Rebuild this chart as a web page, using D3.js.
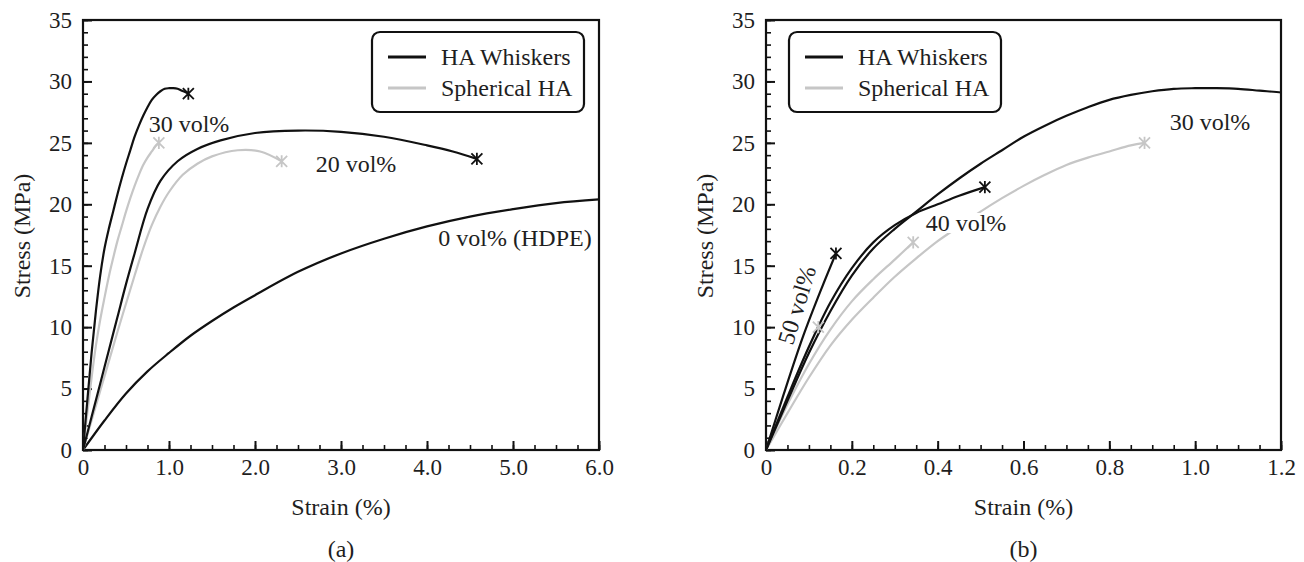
<!DOCTYPE html>
<html><head><meta charset="utf-8">
<script src="https://cdn.jsdelivr.net/npm/d3@7"></script>
<style>body{margin:0;background:#fff}</style>
</head><body>
<svg id="c" width="1304" height="562"></svg>
<script>
// ---- data (strain %, stress MPa) ----
const hdpe0 = [[0,0],[0.25,2.4],[0.5,4.6],[0.75,6.4],[1.0,7.9],[1.25,9.3],[1.5,10.5],[1.75,11.6],[2.0,12.6],[2.5,14.5],[3.0,16.0],[3.5,17.2],[4.0,18.2],[4.5,19.0],[5.0,19.6],[5.5,20.1],[6.0,20.4]];
const whisker20 = [[0,0],[0.1,2.7],[0.2,5.4],[0.3,8.1],[0.4,10.8],[0.5,13.5],[0.6,16.0],[0.75,19.6],[0.9,21.9],[1.1,23.5],[1.33,24.5],[1.6,25.2],[2.0,25.8],[2.5,26.0],[3.0,25.9],[3.5,25.5],[4.0,24.8],[4.3,24.3],[4.58,23.7]];
const sph20 = [[0,0],[0.2,4.8],[0.4,9.6],[0.6,14.2],[0.7,16.4],[0.8,18.3],[0.9,19.8],[1.0,21.0],[1.16,22.4],[1.33,23.3],[1.5,23.9],[1.8,24.4],[2.06,24.3],[2.31,23.5]];
const whisker30 = [[0,0],[0.05,4.0],[0.1,7.9],[0.15,11.3],[0.2,14.2],[0.25,16.4],[0.3,18.0],[0.35,19.4],[0.4,20.8],[0.45,22.1],[0.5,23.3],[0.55,24.4],[0.6,25.5],[0.65,26.4],[0.7,27.2],[0.75,27.9],[0.8,28.5],[0.85,28.9],[0.9,29.2],[0.95,29.4],[1.0,29.45],[1.05,29.45],[1.1,29.4],[1.15,29.25],[1.2,29.1],[1.225,29.0]];
const sph30 = [[0,0],[0.05,3.0],[0.1,5.9],[0.15,8.5],[0.2,10.6],[0.25,12.4],[0.3,14.1],[0.35,15.6],[0.4,17.0],[0.45,18.2],[0.5,19.4],[0.55,20.5],[0.6,21.5],[0.65,22.4],[0.7,23.2],[0.75,23.8],[0.8,24.3],[0.85,24.8],[0.882,25.0]];
const whisker40 = [[0,0],[0.05,4.3],[0.1,8.4],[0.15,12.0],[0.2,14.8],[0.25,16.9],[0.3,18.3],[0.35,19.3],[0.4,20.0],[0.45,20.7],[0.51,21.4]];
const sph40 = [[0,0],[0.05,3.7],[0.1,7.0],[0.15,9.8],[0.2,12.1],[0.25,13.9],[0.3,15.5],[0.343,16.9]];
const whisker50 = [[0,0],[0.04,4.4],[0.087,9.3],[0.13,13.2],[0.163,16.0]];
const sph50 = [[0,0],[0.04,3.5],[0.08,6.8],[0.122,10.0]];

const yTicks = [0,5,10,15,20,25,30,35];
const xTicksA = [0,1,2,3,4,5,6];
const xTicksB = [0,0.2,0.4,0.6,0.8,1.0,1.2];
const legendLabels = ["HA Whiskers","Spherical HA"];

const BLACK = "#111", GRAY = "#c6c6c6", TXT = "#1e1e1e";
const FONT = '"Liberation Serif", "Times New Roman", serif';
const svg = d3.select('#c');
const txt = (sel, size) => sel.style('font-family', FONT).style('font-size', size + 'px').style('fill', TXT);

function drawPanel(cfg){
  const x = d3.scaleLinear().domain([0, cfg.xmax]).range([cfg.x0, cfg.x1]);
  const y = d3.scaleLinear().domain([0, 35]).range([450, 20]);
  const g = svg.append('g');
  const clipId = 'clip' + cfg.id;
  svg.append('clipPath').attr('id', clipId).append('rect')
    .attr('x', cfg.x0).attr('y', 20).attr('width', cfg.x1 - cfg.x0).attr('height', 430);

  const xMinor = d3.range(0, cfg.xmax + 1e-9, cfg.xminor);
  const yMinor = d3.range(0, 35.0001, 1);
  const styleAxis = (s, w) => {
    s.select('.domain').remove();
    s.selectAll('line').attr('stroke', BLACK).attr('stroke-width', w);
    txt(s.selectAll('text'), 23);
  };
  g.append('g').attr('transform', 'translate(0,450)')
    .call(d3.axisBottom(x).tickValues(xMinor).tickSize(-5).tickFormat(''))
    .call(s => styleAxis(s, 1.6));
  g.append('g').attr('transform', `translate(${cfg.x0},0)`)
    .call(d3.axisLeft(y).tickValues(yMinor).tickSize(-5).tickFormat(''))
    .call(s => styleAxis(s, 1.6));
  g.append('g').attr('transform', 'translate(0,450)')
    .call(d3.axisBottom(x).tickValues(cfg.xticks).tickSize(-9).tickPadding(9).tickFormat(d => d === 0 ? '0' : d3.format('.1f')(d)))
    .call(s => styleAxis(s, 2));
  g.append('g').attr('transform', `translate(${cfg.x0},0)`)
    .call(d3.axisLeft(y).tickValues(yTicks).tickSize(-9).tickPadding(11))
    .call(s => styleAxis(s, 2));

  g.append('rect').attr('x', cfg.x0).attr('y', 20).attr('width', cfg.x1 - cfg.x0).attr('height', 430)
    .attr('fill', 'none').attr('stroke', BLACK).attr('stroke-width', 2.2);

  const line = d3.line().x(d => x(d[0])).y(d => y(d[1])).curve(d3.curveCatmullRom.alpha(0.5));
  const cg = g.append('g').attr('clip-path', `url(#${clipId})`);
  const markerPath = s => `M${-s},${-s}L${s},${s}M${-s},${s}L${s},${-s}M0,${-s*1.1}L0,${s*1.1}`;
  cfg.series.forEach(sr => {
    cg.append('path').datum(sr.data).attr('d', line).attr('fill', 'none')
      .attr('stroke', sr.color).attr('stroke-width', 2.2);
  });
  cfg.series.forEach(sr => {
    if (sr.marker) {
      const last = sr.data[sr.data.length - 1];
      cg.append('path').attr('d', markerPath(5.5))
        .attr('transform', `translate(${x(last[0])},${y(last[1])})`)
        .attr('stroke', sr.color).attr('stroke-width', 1.8).attr('fill', 'none');
    }
  });

  cfg.labels.forEach(l => {
    const t = g.append('text').attr('x', l.x).attr('y', l.y)
      .attr('text-anchor', 'middle').attr('dominant-baseline', 'central').text(l.text);
    txt(t, 24);
    if (l.rot) t.attr('transform', `rotate(${l.rot},${l.x},${l.y})`);
    if (l.mask) {
      const bb = t.node().getBBox();
      g.insert('rect', () => t.node()).attr('x', bb.x - 2).attr('y', bb.y + 3).attr('width', bb.width + 4).attr('height', bb.height - 6).attr('fill', '#fff');
    }
  });

  txt(g.append('text').attr('x', (cfg.x0 + cfg.x1) / 2).attr('y', 507)
    .attr('text-anchor', 'middle').attr('dominant-baseline', 'central').text('Strain (%)'), 24);
  txt(g.append('text').attr('transform', `translate(${cfg.x0 - 61},236) rotate(-90)`)
    .attr('text-anchor', 'middle').attr('dominant-baseline', 'central').text('Stress (MPa)'), 24);
  txt(g.append('text').attr('x', (cfg.x0 + cfg.x1) / 2).attr('y', 549)
    .attr('text-anchor', 'middle').attr('dominant-baseline', 'central').text(cfg.tag), 24);

  const L = cfg.legend;
  g.append('rect').attr('x', L.x).attr('y', 32).attr('width', 212).attr('height', 80).attr('rx', 8)
    .attr('fill', '#fff').attr('stroke', BLACK).attr('stroke-width', 2.2);
  [[BLACK, 57], [GRAY, 88]].forEach((c, i) => {
    g.append('line').attr('x1', L.x + 16).attr('x2', L.x + 54).attr('y1', c[1]).attr('y2', c[1])
      .attr('stroke', c[0]).attr('stroke-width', 3);
    txt(g.append('text').attr('x', L.x + 69).attr('y', c[1])
      .attr('dominant-baseline', 'central').text(legendLabels[i]), 24);
  });
}

drawPanel({
  id: 'a', x0: 83, x1: 599, xmax: 6, xminor: 0.25, xticks: xTicksA, tag: '(a)',
  legend: {x: 372},
  series: [
    {data: hdpe0, color: BLACK, marker: false},
    {data: sph20, color: GRAY, marker: true},
    {data: sph30, color: GRAY, marker: true},
    {data: whisker20, color: BLACK, marker: true},
    {data: whisker30, color: BLACK, marker: true}
  ],
  labels: [
    {text: '30 vol%', x: 189, y: 124},
    {text: '20 vol%', x: 356, y: 164},
    {text: '0 vol% (HDPE)', x: 515, y: 238}
  ]
});

drawPanel({
  id: 'b', x0: 766, x1: 1281, xmax: 1.2, xminor: 0.05, xticks: xTicksB, tag: '(b)',
  legend: {x: 789},
  series: [
    {data: sph30, color: GRAY, marker: true},
    {data: sph40, color: GRAY, marker: true},
    {data: sph50, color: GRAY, marker: true},
    {data: whisker30, color: BLACK, marker: true},
    {data: whisker40, color: BLACK, marker: true},
    {data: whisker50, color: BLACK, marker: true}
  ],
  labels: [
    {text: '30 vol%', x: 1210, y: 122},
    {text: '40 vol%', x: 966, y: 223, mask: true},
    {text: '50 vol%', x: 797, y: 305, rot: -73}
  ]
});
</script>
</body></html>
